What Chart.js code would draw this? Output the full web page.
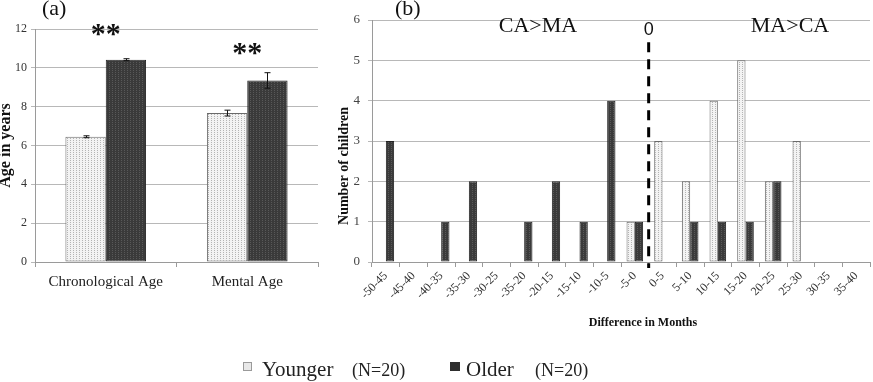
<!DOCTYPE html>
<html><head><meta charset="utf-8">
<script src="https://cdn.jsdelivr.net/npm/chart.js@4"></script>
<style>
html,body{margin:0;padding:0;background:#fff;width:873px;height:382px;overflow:hidden;position:relative;}
canvas{position:absolute;top:0;}
#ca{left:0}
#cb{left:330px}
#lg{left:230px;top:350px}
</style></head><body>
<canvas id="ca" width="325" height="300"></canvas>
<canvas id="cb" width="543" height="335"></canvas>
<canvas id="lg" width="400" height="32"></canvas>
<script>
// ---- Data: panel (a) ----
const groupLabels = ['Chronological Age', 'Mental Age'];
const youngerMeans = [6.45, 7.67];
const youngerErr = [0.05, 0.15];
const olderMeans = [10.42, 9.35];
const olderErr = [0.05, 0.4];
const sigMarks = ['**', '**'];

// ---- Data: panel (b) ----
const diffBins = ['-50-45','-45-40','-40-35','-35-30','-30-25','-35-20','-20-15','-15-10','-10-5','-5-0','0-5','5-10','10-15','15-20','20-25','25-30','30-35','35-40'];
const youngerCounts = [0,0,0,0,0,0,0,0,0,1,3,2,4,5,2,3,0,0];
const olderCounts   = [3,0,1,2,0,1,2,1,4,1,0,1,1,1,2,0,0,0];

// ---- Legend ----
const seriesNames = ['Younger', 'Older'];
const seriesN = ['(N=20)', '(N=20)'];

const SERIF = "'Liberation Serif','Times New Roman',serif";

function makePattern(bg, dot, w, h, dots) {
  const c = document.createElement('canvas');
  c.width = w; c.height = h;
  const g = c.getContext('2d');
  g.fillStyle = bg; g.fillRect(0, 0, w, h);
  g.fillStyle = dot;
  dots.forEach(d => g.fillRect(d[0], d[1], 1, 1));
  return g.createPattern(c, 'repeat');
}
const youngPat = makePattern('#f3f3f3', '#b4b4b4', 3, 2, [[1,0]]);
const oldPat = makePattern('#3a3a3a', '#585858', 3, 2, [[1,0]]);

// ---- Panel (a) plugin: error bars, stars, label ----
const panelA = {
  id: 'panelA',
  afterDatasetsDraw(chart) {
    const ctx = chart.ctx, y = chart.scales.y;
    const sets = [[youngerMeans, youngerErr], [olderMeans, olderErr]];
    ctx.save();
    ctx.strokeStyle = '#111'; ctx.lineWidth = 1;
    sets.forEach((s, i) => {
      chart.getDatasetMeta(i).data.forEach((bar, j) => {
        const x = Math.round(bar.x) + 0.5;
        const t = y.getPixelForValue(s[0][j] + s[1][j]);
        const b = y.getPixelForValue(s[0][j] - s[1][j]);
        ctx.beginPath();
        ctx.moveTo(x, t); ctx.lineTo(x, b);
        ctx.moveTo(x - 3, t); ctx.lineTo(x + 3, t);
        ctx.moveTo(x - 3, b); ctx.lineTo(x + 3, b);
        ctx.stroke();
      });
    });
    ctx.restore();
  },
  afterDraw(chart) {
    const ctx = chart.ctx, x = chart.scales.x, a = chart.chartArea;
    ctx.save();
    ctx.fillStyle = '#111';
    ctx.font = '22px ' + SERIF;
    ctx.textAlign = 'left'; ctx.textBaseline = 'alphabetic';
    ctx.fillText('(a)', 42, 15);
    ctx.font = 'bold 30px ' + SERIF;
    ctx.textAlign = 'center';
    const starY = [43, 62];
    sigMarks.forEach((m, j) => {
      ctx.fillText(m, x.getPixelForValue(j), starY[j]);
    });
    ctx.font = 'bold 16px ' + SERIF;
    ctx.translate(10, (a.top + a.bottom) / 2);
    ctx.rotate(-Math.PI / 2);
    ctx.fillText('Age in years', 0, 0);
    ctx.restore();
  }
};

new Chart(document.getElementById('ca'), {
  type: 'bar',
  data: {
    labels: groupLabels,
    datasets: [
      { label: seriesNames[0], data: youngerMeans, backgroundColor: youngPat, borderColor: '#6a6a6a', borderWidth: 1, borderSkipped: false },
      { label: seriesNames[1], data: olderMeans, backgroundColor: oldPat, borderColor: '#222', borderWidth: 1, borderSkipped: false }
    ]
  },
  options: {
    responsive: false, animation: false, events: [],
    layout: { padding: { top: 29, right: 7, left: 0, bottom: 0 } },
    datasets: { bar: { categoryPercentage: 0.57, barPercentage: 1 } },
    plugins: { legend: { display: false }, tooltip: { enabled: false } },
    scales: {
      x: {
        grid: { drawOnChartArea: false, offset: true, tickLength: 5, color: '#9a9a9a' },
        border: { color: '#9a9a9a' },
        ticks: { font: { family: SERIF, size: 15 }, color: '#222', padding: 6, maxRotation: 0 },
        afterFit: s => { s.height = 38; }
      },
      y: {
        min: 0, max: 12,
        ticks: { stepSize: 2, font: { family: SERIF, size: 12 }, color: '#333', padding: 4 },
        grid: { color: '#b8b8b8', tickLength: 4 },
        border: { color: '#9a9a9a' },
        afterFit: s => { s.width = 35; }
      }
    }
  },
  plugins: [panelA]
});

// ---- Panel (b) plugin ----
const panelB = {
  id: 'panelB',
  afterDraw(chart) {
    const ctx = chart.ctx, x = chart.scales.x, y = chart.scales.y, a = chart.chartArea;
    const zeroIdx = diffBins.indexOf('0-5');
    const xb = (x.getPixelForValue(zeroIdx - 1) + x.getPixelForValue(zeroIdx)) / 2;
    ctx.save();
    ctx.strokeStyle = '#000'; ctx.lineWidth = 3;
    ctx.setLineDash([10, 7]);
    ctx.beginPath();
    ctx.moveTo(xb, y.getPixelForValue(5.45));
    ctx.lineTo(xb, a.bottom + 6);
    ctx.stroke();
    ctx.setLineDash([]);
    ctx.fillStyle = '#111';
    ctx.textAlign = 'center'; ctx.textBaseline = 'alphabetic';
    ctx.font = '18px "Liberation Sans", Arial, sans-serif';
    ctx.fillText('0', xb, 35);
    ctx.font = '22px ' + SERIF;
    ctx.fillText('CA>MA', a.left + 166, 32);
    ctx.fillText('MA>CA', a.left + 418, 32);
    ctx.textAlign = 'left';
    ctx.fillText('(b)', 65, 15);
    ctx.textAlign = 'center';
    ctx.font = 'bold 12px ' + SERIF;
    ctx.fillText('Difference in Months', 313, 326);
    ctx.font = 'bold 14px ' + SERIF;
    ctx.translate(18, 166);
    ctx.rotate(-Math.PI / 2);
    ctx.fillText('Number of children', 0, 0);
    ctx.restore();
  }
};

new Chart(document.getElementById('cb'), {
  type: 'bar',
  data: {
    labels: diffBins,
    datasets: [
      { label: seriesNames[0], data: youngerCounts, backgroundColor: youngPat, borderColor: '#6a6a6a', borderWidth: 1, borderSkipped: false },
      { label: seriesNames[1], data: olderCounts, backgroundColor: oldPat, borderColor: '#222', borderWidth: 1, borderSkipped: false }
    ]
  },
  options: {
    responsive: false, animation: false, events: [],
    layout: { padding: { top: 20, right: 3, left: 0, bottom: 0 } },
    datasets: { bar: { categoryPercentage: 0.6, barPercentage: 1 } },
    plugins: { legend: { display: false }, tooltip: { enabled: false } },
    scales: {
      x: {
        grid: { drawOnChartArea: false, offset: true, tickLength: 5, color: '#9a9a9a' },
        border: { color: '#9a9a9a' },
        ticks: { font: { family: SERIF, size: 12 }, color: '#333', padding: 2, minRotation: 45, maxRotation: 45, autoSkip: false },
        afterFit: s => { s.height = 73; }
      },
      y: {
        min: 0, max: 6,
        ticks: { stepSize: 1, font: { family: SERIF, size: 13 }, color: '#444', padding: 8 },
        grid: { color: '#b8b8b8', tickLength: 4 },
        border: { color: '#9a9a9a' },
        afterFit: s => { s.width = 42; }
      }
    }
  },
  plugins: [panelB]
});

// ---- Legend (canvas at left 230, top 350) ----
(function () {
  const g = document.getElementById('lg').getContext('2d');
  g.textBaseline = 'alphabetic';
  // Younger swatch
  g.fillStyle = '#e8e8e8'; g.fillRect(13, 12, 9, 9);
  g.strokeStyle = '#9a9a9a'; g.lineWidth = 1; g.strokeRect(13.5, 12.5, 8, 8);
  g.fillStyle = '#222';
  g.font = '21px ' + SERIF; g.fillText(seriesNames[0], 32, 26);
  g.font = '18px ' + SERIF; g.fillText(seriesN[0], 122, 26);
  // Older swatch
  g.fillStyle = '#2e2e2e'; g.fillRect(220, 12, 10, 9);
  g.fillStyle = '#222';
  g.font = '21px ' + SERIF; g.fillText(seriesNames[1], 236, 26);
  g.font = '18px ' + SERIF; g.fillText(seriesN[1], 305, 26);
})();
</script>
</body></html>
